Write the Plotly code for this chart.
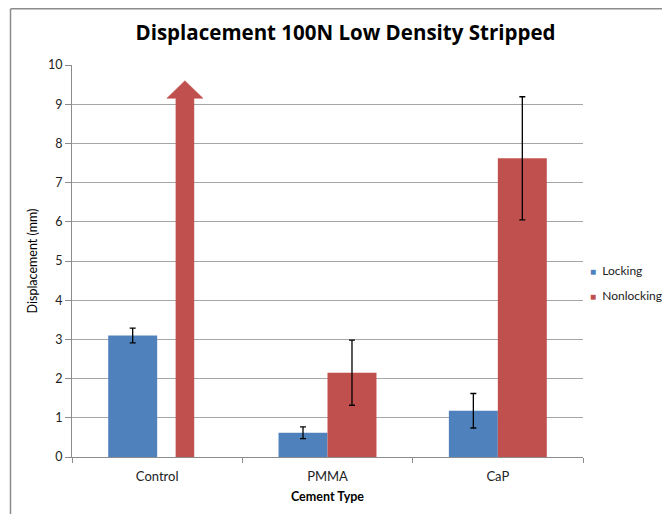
import plotly.graph_objects as go

categories = ["Control", "PMMA", "CaP"]
locking = [3.1, 0.62, 1.18]
locking_err = [0.19, 0.15, 0.44]
nonlocking = [None, 2.15, 7.62]
nonlocking_err = [0, 0.83, 1.57]
series_names = ["Locking", "Nonlocking"]
# Control nonlocking went off scale: drawn as an upward arrow
offscale_category = "Control"
offscale_arrow_top = 9.6
offscale_head_base = 9.15

BLUE = "#4F81BD"
RED = "#C0504D"
FONT = "Lato"

# page has an 8px body margin; layout values are in figure pixels
L, R, T, B = 64, 95, 57, 65
W, H = 670, 514
PW, PH = W - L - R, H - T - B

fig = go.Figure()
fig.add_trace(go.Bar(
    x=categories, y=locking, name=series_names[0], marker=dict(color=BLUE, line=dict(width=0)),
    error_y=dict(type="data", array=locking_err, color="black", thickness=1.3, width=3),
))
fig.add_trace(go.Bar(
    x=categories, y=nonlocking, name=series_names[1], marker=dict(color=RED, line=dict(width=0)),
    error_y=dict(type="data", array=nonlocking_err, color="black", thickness=1.3, width=3),
))

# arrow for off-scale value
ci = categories.index(offscale_category)
cx = ci + 0.163
sw = 0.053
hw = 0.106
path = (f"M {cx-sw},0 L {cx-sw},{offscale_head_base} L {cx-hw},{offscale_head_base} "
        f"L {cx},{offscale_arrow_top} L {cx+hw},{offscale_head_base} L {cx+sw},{offscale_head_base} "
        f"L {cx+sw},0 Z")
fig.add_shape(type="path", path=path, xref="x", yref="y", fillcolor=RED,
              line=dict(color=RED, width=0.5), layer="above")

# outer frame lines (chart border)
fx = (2.5 - L) / PW
fy = (H - B - 0.75) / PH
fig.add_shape(type="line", xref="paper", yref="paper", x0=fx, x1=fx, y0=fy, y1=-0.3,
              line=dict(color="#8c8c8c", width=1.5))
fig.add_shape(type="line", xref="paper", yref="paper", x0=fx, x1=1.3, y0=fy, y1=fy,
              line=dict(color="#8c8c8c", width=1.5))

# legend drawn as small coloured squares + labels
for i, (name, col) in enumerate(zip(series_names, [BLUE, RED])):
    ycen = 270 - 8 + 25 * i
    fig.add_annotation(
        xref="paper", yref="paper", x=(588 - 8 - L) / PW, y=(H - B - ycen) / PH,
        xanchor="left", yanchor="middle", showarrow=False, align="left",
        text=f"<span style='color:{col};font-size:10px'>■</span>  {name}",
        font=dict(family=FONT, size=12, color="#222"),
    )

fig.update_layout(
    width=W, height=H,
    margin=dict(l=L, r=R, t=T, b=B, autoexpand=False),
    paper_bgcolor="white", plot_bgcolor="white",
    barmode="group", bargap=0.425, bargroupgap=0,
    font=dict(family=FONT, size=12, color="#222"),
    title=dict(text="<b>Displacement 100N Low Density Stripped</b>", x=337.5 / W, xanchor="center",
               y=1 - 25 / H, yanchor="middle", font=dict(family="Open Sans", size=20.5, color="black")),
    showlegend=False,
)
fig.update_xaxes(
    type="category", range=[-0.5, 2.5], showline=True, linecolor="#8c8c8c", linewidth=1,
    ticks="outside", tickson="boundaries", ticklen=5, tickcolor="#8c8c8c",
    ticklabelstandoff=7,
    title=dict(text="<b>Cement Type</b>", font=dict(size=12.5, color="black"), standoff=9),
    tickfont=dict(size=13, color="#222"), showgrid=False,
)
fig.update_yaxes(
    range=[0, 10], dtick=1, showline=True, linecolor="#8c8c8c", linewidth=1,
    ticks="outside", ticklen=6, tickcolor="#8c8c8c",
    showgrid=True, gridcolor="#a6a6a6", gridwidth=1, zeroline=False,
    title=dict(text="Displacement (mm)", font=dict(size=12.5, color="black"), standoff=7),
    tickfont=dict(size=12.5, color="#222"),
)
fig.write_html("out.html")
